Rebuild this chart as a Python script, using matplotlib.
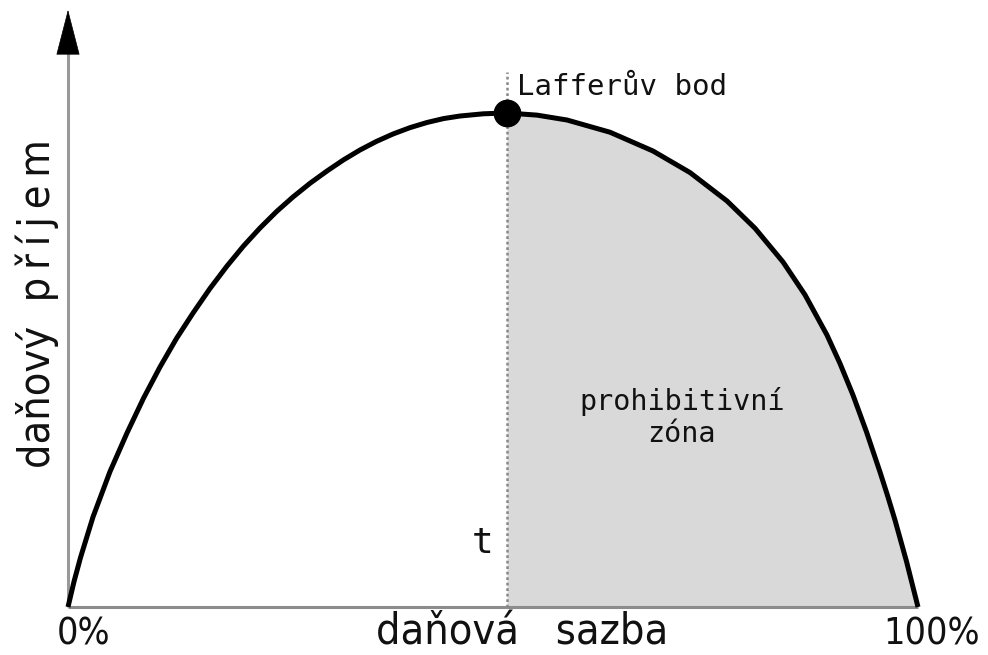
import matplotlib
matplotlib.use("Agg")
import matplotlib.pyplot as plt
import numpy as np

# Laffer curve (tax rate in %, revenue normalised to peak = 100)
tax_rate = [0.0, 0.71, 1.47, 2.18, 2.94, 4.94, 6.94, 8.88, 10.82, 12.76,
            14.71, 16.71, 18.71, 20.65, 22.59, 24.53, 26.47, 28.47, 30.47, 32.41,
            34.35, 36.29, 38.24, 40.24, 42.24, 44.18, 46.12, 48.88, 51.65, 55.18,
            58.71, 63.76, 68.82, 73.18, 77.53, 80.82, 84.12, 86.71, 89.29, 90.82,
            92.35, 93.94, 95.53, 96.41, 97.29, 98.65, 100.0]
revenue = [0.0, 5.16, 10.00, 13.97, 18.22, 27.41, 35.22, 42.25, 48.58, 54.35,
           59.51, 64.49, 69.03, 73.08, 76.72, 80.04, 83.00, 85.77, 88.26, 90.51,
           92.51, 94.25, 95.75, 97.04, 98.08, 98.87, 99.39, 99.84, 100.0, 99.57,
           98.58, 96.11, 92.31, 87.94, 82.19, 76.68, 69.84, 63.18, 55.06, 49.31,
           42.91, 35.45, 27.33, 22.59, 17.61, 9.21, 0.0]
peak_rate = 51.65
peak_revenue = 100.0

x_label = "daňová   sazba"
y_label = "daňový  p\u2009ř\u2009í\u2009j\u2009e\u2009m"
tick_left = "0%"
tick_right = "100%"
peak_label = "Lafferův bod"
zone_label = ["prohibitivní", "zóna"]
rate_label = "t"

mono = "DejaVu Sans Mono"

fig = plt.figure(figsize=(9.88, 6.55), dpi=100)
ax = fig.add_axes([68 / 988, 48 / 655, 850 / 988, 494 / 655])
ax.set_xlim(0, 100)
ax.set_ylim(0, 100)
ax.axis("off")

x = np.array(tax_rate)
y = np.array(revenue)

# prohibitive zone shading
mask = x >= peak_rate
ax.fill_between(x[mask], 0, y[mask], color="#d9d9d9", linewidth=0, zorder=1)

# axes lines
ax.plot([0, 100], [0, 0], color="#8c8c8c", lw=2.2, solid_capstyle="butt",
        clip_on=False, zorder=2)
ax.plot([0, 0], [0, 112.5], color="#999999", lw=2.2, solid_capstyle="butt",
        clip_on=False, zorder=2)
ax.annotate("", xy=(0, 120.9), xytext=(0, 112.0), xycoords="data",
            arrowprops=dict(arrowstyle="-|>,head_length=1.55,head_width=0.4",
                            mutation_scale=20, color="black", lw=0.5,
                            shrinkA=0, shrinkB=0),
            annotation_clip=False, zorder=3)

# dotted line at the Laffer point
ax.plot([peak_rate, peak_rate], [0, 108.3], color="#888888", lw=1.8,
        linestyle=(0, (1.1, 1.1)), clip_on=False, zorder=2)

# curve
ax.plot(x, y, color="black", lw=3.6, solid_joinstyle="round",
        solid_capstyle="butt", clip_on=False, zorder=4)
ax.plot([peak_rate], [peak_revenue], "o", color="black", ms=19,
        clip_on=False, zorder=5)

# texts
ax.text(52.8, 103.6, peak_label, family=mono, fontsize=21, va="baseline",
        ha="left", color="#111111")
ax.text(72.2, 39.9, zone_label[0], family=mono, fontsize=20.5, va="baseline",
        ha="center", color="#111111")
ax.text(72.2, 33.4, zone_label[1], family=mono, fontsize=20.5, va="baseline",
        ha="center", color="#111111")
ax.text(50.0, 10.9, rate_label, family=mono, fontsize=26, va="baseline",
        ha="right", color="#111111")

sans = dict(family="DejaVu Sans", fontstretch="condensed", color="#111111")
ax.text(-1.3, -7.5, tick_left, ha="left", va="baseline", fontsize=27,
        clip_on=False, **sans)
ax.text(95.9, -7.5, tick_right, ha="left", va="baseline", fontsize=27,
        clip_on=False, **sans)
ax.text(53.4, -7.6, x_label, ha="center", va="baseline", fontsize=31,
        clip_on=False, **sans)
ax.text(-2.1, 61.5, y_label, ha="center", va="baseline", rotation=90,
        rotation_mode="anchor", fontsize=31, clip_on=False, **sans)

fig.savefig("out.png", dpi=100, facecolor="white")
